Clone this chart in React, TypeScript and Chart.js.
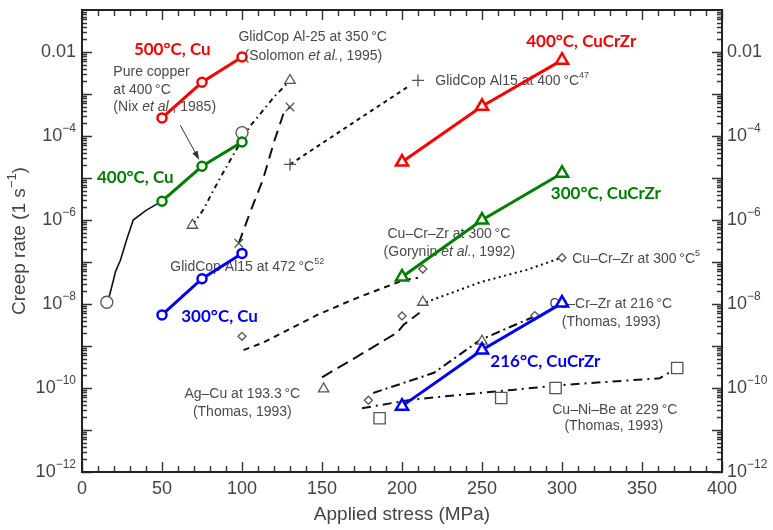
import React, { useEffect, useRef } from 'react';
import { Chart, registerables } from 'chart.js';
Chart.register(...registerables);

// ---------------- axis ticks ----------------
const xTickValues = [0, 50, 100, 150, 200, 250, 300, 350, 400];
const yTickExponents = [-12, -10, -8, -6, -4, -2];

// ---------------- this work (coloured) ----------------
const cu500X = [50, 75, 100];
const cu500Y = [2.7e-4, 1.9e-3, 7.6e-3];
const cu400X = [50, 75, 100];
const cu400Y = [2.8e-6, 1.9e-5, 7.2e-5];
const cu300X = [50, 75, 100];
const cu300Y = [5.5e-9, 4.0e-8, 1.6e-7];
const czr400X = [200, 250, 300];
const czr400Y = [2.4e-5, 5.1e-4, 6.4e-3];
const czr300X = [200, 250, 300];
const czr300Y = [4.4e-8, 1.0e-6, 1.3e-5];
const czr216X = [200, 250, 300];
const czr216Y = [3.7e-11, 8.0e-10, 1.05e-8];

// ---------------- literature curves (black) ----------------
const nixX = [16, 18, 21, 24, 28, 32, 40, 50, 75, 100];
const nixY = [1.1e-8, 2.1e-8, 6e-8, 1.1e-7, 3.5e-7, 1e-6, 1.7e-6, 2.8e-6, 1.9e-5, 7.2e-5];
const solomonX = [69, 72, 76, 82, 88, 95, 105, 113, 120, 130];
const solomonY = [7.5e-7, 1.1e-6, 1.8e-6, 5e-6, 1.3e-5, 3.8e-5, 1.7e-4, 4e-4, 8.5e-4, 2.1e-3];
const al15at472X = [98, 105, 113, 120, 126, 130];
const al15at472Y = [2.8e-7, 1.5e-6, 8.9e-6, 7.2e-5, 3.5e-4, 4.9e-4];
const al15at400X = [130, 168, 205];
const al15at400Y = [2.1e-5, 1.9e-4, 1.6e-3];
const goryninX = [101, 113, 147, 172, 188, 201, 210];
const goryninY = [8e-10, 1.2e-9, 5.5e-9, 1.4e-8, 2.4e-8, 3.7e-8, 4.2e-8];
const ccz300X = [215, 249, 278, 298];
const ccz300Y = [1.1e-8, 3.3e-8, 6.5e-8, 1.2e-7];
const agCuX = [150, 174, 197, 201, 211];
const agCuY = [1.8e-10, 6.2e-10, 2.1e-9, 3.2e-9, 6.2e-9];
const ccz216X = [182, 220, 249, 282];
const ccz216Y = [7.6e-11, 2.3e-10, 1.4e-9, 4.9e-9];
const cuNiBeX = [175, 205, 235, 269, 303, 361, 372];
const cuNiBeY = [3.3e-11, 5.2e-11, 6.8e-11, 9e-11, 1.2e-10, 1.7e-10, 3e-10];

// ---------------- literature markers ----------------
const grayCircleX = [15.5, 100];
const grayCircleY = [1.1e-8, 1.2e-4];
const grayTriX = [69, 130, 151, 213, 250];
const grayTriY = [7.5e-7, 2.1e-3, 9.5e-11, 1.1e-8, 1.3e-9];
const grayCrossX = [98, 130];
const grayCrossY = [2.8e-7, 4.9e-4];
const grayPlusX = [130, 210];
const grayPlusY = [2.1e-5, 2.1e-3];
const grayDiamondX = [100, 213, 300, 200, 179, 283];
const grayDiamondY = [1.7e-9, 6.8e-8, 1.26e-7, 5.2e-9, 5.1e-11, 5.3e-9];
const graySquareX = [186, 262, 296, 372];
const graySquareY = [1.9e-11, 5.8e-11, 1e-10, 3e-10];

// ---------------- annotations ----------------
type Part = { t: string; sup?: boolean; it?: boolean };
type Note = { parts: Part[]; x: number; y: number; align: 'left' | 'center'; kind: 'bold' | 'gray'; color?: string };

const RED = '#ff0000';
const GREEN = '#008000';
const BLUE = '#0000ff';
const GRAY_TEXT = '#4a4a4a';
const T = '\u2009';

const notes: Note[] = [
  { parts: [{ t: '500°C, Cu' }], x: 56.4, y: 1.12e-2, align: 'center', kind: 'bold', color: RED },
  { parts: [{ t: '400°C, Cu' }], x: 33.3, y: 1.05e-5, align: 'center', kind: 'bold', color: GREEN },
  { parts: [{ t: '300°C, Cu' }], x: 86, y: 4.9e-9, align: 'center', kind: 'bold', color: BLUE },
  { parts: [{ t: '400°C, CuCrZr' }], x: 312, y: 1.74e-2, align: 'center', kind: 'bold', color: RED },
  { parts: [{ t: '300°C, CuCrZr' }], x: 327.4, y: 4.2e-6, align: 'center', kind: 'bold', color: GREEN },
  { parts: [{ t: '216°C, CuCrZr' }], x: 289.6, y: 4.2e-10, align: 'center', kind: 'bold', color: BLUE },

  { parts: [{ t: 'GlidCop Al-25 at 350' + T + '°C' }], x: 144.2, y: 2.29e-2, align: 'center', kind: 'gray' },
  { parts: [{ t: '(Solomon ' }, { t: 'et al.', it: true }, { t: ', 1995)' }], x: 144.6, y: 7.9e-3, align: 'center', kind: 'gray' },
  { parts: [{ t: 'Pure copper' }], x: 19.6, y: 3.3e-3, align: 'left', kind: 'gray' },
  { parts: [{ t: 'at 400' + T + '°C' }], x: 19.6, y: 1.26e-3, align: 'left', kind: 'gray' },
  { parts: [{ t: '(Nix ' }, { t: 'et al.', it: true }, { t: ', 1985)' }], x: 19.6, y: 4.9e-4, align: 'left', kind: 'gray' },
  { parts: [{ t: 'GlidCop Al15 at 400' + T + '°C' }, { t: '47', sup: true }], x: 220.8, y: 2.04e-3, align: 'left', kind: 'gray' },
  { parts: [{ t: 'Cu–Cr–Zr at 300' + T + '°C' }], x: 229.3, y: 4.7e-7, align: 'center', kind: 'gray' },
  { parts: [{ t: '(Gorynin ' }, { t: 'et al.', it: true }, { t: ', 1992)' }], x: 229.6, y: 1.74e-7, align: 'center', kind: 'gray' },
  { parts: [{ t: 'GlidCop Al15 at 472' + T + '°C' }, { t: '52', sup: true }], x: 55.2, y: 7.6e-8, align: 'left', kind: 'gray' },
  { parts: [{ t: 'Cu–Cr–Zr at 300' + T + '°C' }, { t: '5', sup: true }], x: 306.4, y: 1.17e-7, align: 'left', kind: 'gray' },
  { parts: [{ t: 'Cu–Cr–Zr at 216' + T + '°C' }], x: 330.5, y: 1.0e-8, align: 'center', kind: 'gray' },
  { parts: [{ t: '(Thomas, 1993)' }], x: 330.8, y: 3.7e-9, align: 'center', kind: 'gray' },
  { parts: [{ t: 'Ag–Cu at 193.3' + T + '°C' }], x: 100.2, y: 7.2e-11, align: 'center', kind: 'gray' },
  { parts: [{ t: '(Thomas, 1993)' }], x: 100.2, y: 2.7e-11, align: 'center', kind: 'gray' },
  { parts: [{ t: 'Cu–Ni–Be at 229' + T + '°C' }], x: 333, y: 3.0e-11, align: 'center', kind: 'gray' },
  { parts: [{ t: '(Thomas, 1993)' }], x: 332.4, y: 1.26e-11, align: 'center', kind: 'gray' },
];

// arrow from "Pure copper" note to the Nix curve
const arrowFrom = { x: 61.4, y: 1.8e-4 };
const arrowTo = { x: 73.3, y: 2.7e-5 };

const SANS = '"Liberation Sans", Arial, Helvetica, sans-serif';
const BOLD = 'Lato, "Open Sans", sans-serif';

function drawRich(ctx: CanvasRenderingContext2D, parts: Part[], x: number, y: number, size: number, family: string, weight: string, color: string, align: string) {
  const fontFor = (p: Part) => `${p.it ? 'italic ' : ''}${weight} ${p.sup ? Math.round(size * 0.66) : size}px ${family}`;
  let total = 0;
  const ws = parts.map((p) => {
    ctx.font = fontFor(p);
    const w = ctx.measureText(p.t).width;
    total += w;
    return w;
  });
  let cx = align === 'center' ? x - total / 2 : align === 'right' ? x - total : x;
  ctx.textBaseline = 'middle';
  ctx.textAlign = 'left';
  ctx.fillStyle = color;
  parts.forEach((p, i) => {
    ctx.font = fontFor(p);
    ctx.fillText(p.t, cx, p.sup ? y - size * 0.38 : y);
    cx += ws[i];
  });
}

const decorPlugin = {
  id: 'decor',
  beforeDatasetsDraw(chart: any) {
    const { ctx, chartArea: a, scales } = chart;
    const xs = scales.x;
    const ys = scales.y;
    ctx.save();
    // ticks
    ctx.strokeStyle = '#333';
    ctx.lineWidth = 1.4;
    ctx.beginPath();
    for (let v = 0; v <= 400; v += 10) {
      const px = Math.round(xs.getPixelForValue(v)) + 0.5;
      const len = v % 50 === 0 ? 10 : 6;
      ctx.moveTo(px, a.bottom);
      ctx.lineTo(px, a.bottom - len);
      ctx.moveTo(px, a.top);
      ctx.lineTo(px, a.top + len);
    }
    for (let e = -12; e <= -2; e++) {
      for (let m = 1; m <= 9; m++) {
        const v = m * Math.pow(10, e);
        if (v > 0.1 + 1e-12) continue;
        const py = Math.round(ys.getPixelForValue(v)) + 0.5;
        const len = m === 1 ? 10 : 5;
        ctx.moveTo(a.left, py);
        ctx.lineTo(a.left + len, py);
        ctx.moveTo(a.right, py);
        ctx.lineTo(a.right - len, py);
      }
    }
    ctx.stroke();
    // frame
    ctx.lineWidth = 2;
    ctx.strokeStyle = '#222';
    ctx.strokeRect(a.left, a.top, a.right - a.left, a.bottom - a.top);

    // tick labels
    const axisColor = '#444';
    xTickValues.forEach((v) => {
      drawRich(ctx, [{ t: String(v) }], xs.getPixelForValue(v), a.bottom + 17, 18, SANS, 'normal', axisColor, 'center');
    });
    yTickExponents.forEach((e) => {
      const py = ys.getPixelForValue(Math.pow(10, e));
      const parts: Part[] = e === -2 ? [{ t: '0.01' }] : [{ t: '10' }, { t: '−' + Math.abs(e), sup: true }];
      drawRich(ctx, parts, a.left - 6, py, 18, SANS, 'normal', axisColor, 'right');
      drawRich(ctx, parts, a.right + 5, py, 18, SANS, 'normal', axisColor, 'left');
    });
    // axis titles
    drawRich(ctx, [{ t: 'Applied stress (MPa)' }], (a.left + a.right) / 2, a.bottom + 43, 19, SANS, 'normal', axisColor, 'center');
    ctx.save();
    ctx.translate(20, (a.top + a.bottom) / 2 + 0);
    ctx.rotate(-Math.PI / 2);
    drawRich(ctx, [{ t: 'Creep rate (1 s' }, { t: '−1', sup: true }, { t: ')' }], 0, 0, 19, SANS, 'normal', axisColor, 'center');
    ctx.restore();

    // notes
    notes.forEach((n) => {
      const px = xs.getPixelForValue(n.x);
      const py = ys.getPixelForValue(n.y);
      if (n.kind === 'bold') drawRich(ctx, n.parts, px, py, 17, BOLD, 'bold', n.color || '#000', n.align);
      else drawRich(ctx, n.parts, px, py, 14, SANS, 'normal', GRAY_TEXT, n.align);
    });

    // arrow
    const x1 = xs.getPixelForValue(arrowFrom.x), y1 = ys.getPixelForValue(arrowFrom.y);
    const x2 = xs.getPixelForValue(arrowTo.x), y2 = ys.getPixelForValue(arrowTo.y);
    const ang = Math.atan2(y2 - y1, x2 - x1);
    ctx.strokeStyle = '#333';
    ctx.fillStyle = '#333';
    ctx.lineWidth = 1;
    ctx.beginPath();
    ctx.moveTo(x1, y1);
    ctx.lineTo(x2 - Math.cos(ang) * 6, y2 - Math.sin(ang) * 6);
    ctx.stroke();
    ctx.beginPath();
    ctx.moveTo(x2, y2);
    ctx.lineTo(x2 - Math.cos(ang) * 9 - Math.sin(ang) * 3, y2 - Math.sin(ang) * 9 + Math.cos(ang) * 3);
    ctx.lineTo(x2 - Math.cos(ang) * 9 + Math.sin(ang) * 3, y2 - Math.sin(ang) * 9 - Math.cos(ang) * 3);
    ctx.closePath();
    ctx.fill();
    ctx.restore();
  },
};

const pts = (xs: number[], ys: number[]) => xs.map((x, i) => ({ x, y: ys[i] }));

function colored(xs: number[], ys: number[], color: string, style: string) {
  return {
    data: pts(xs, ys),
    showLine: true,
    borderColor: color,
    borderWidth: 3,
    pointStyle: style,
    pointRadius: style === 'triangle' ? 7 : 4.5,
    pointBorderWidth: 2.5,
    pointBorderColor: color,
    pointBackgroundColor: '#ffffff',
    tension: 0,
  };
}

function blackLine(xs: number[], ys: number[], dash: number[], width = 2) {
  return {
    data: pts(xs, ys),
    showLine: true,
    borderColor: '#111',
    borderWidth: width,
    borderDash: dash,
    pointRadius: 0,
    tension: 0,
  };
}

function markers(xs: number[], ys: number[], style: string, radius: number) {
  return {
    data: pts(xs, ys),
    showLine: false,
    pointStyle: style,
    pointRadius: radius,
    pointBorderWidth: 1.3,
    pointBorderColor: '#555',
    pointBackgroundColor: '#ffffff',
  };
}

export default function App() {
  const ref = useRef<HTMLCanvasElement | null>(null);
  useEffect(() => {
    const canvas = ref.current;
    if (!canvas) return;
    const chart = new Chart(canvas, {
      type: 'scatter',
      data: {
        datasets: [
          colored(cu500X, cu500Y, RED, 'circle'),
          colored(cu400X, cu400Y, GREEN, 'circle'),
          colored(cu300X, cu300Y, BLUE, 'circle'),
          colored(czr400X, czr400Y, RED, 'triangle'),
          colored(czr300X, czr300Y, GREEN, 'triangle'),
          colored(czr216X, czr216Y, BLUE, 'triangle'),
          markers(grayCircleX, grayCircleY, 'circle', 6),
          markers(grayTriX, grayTriY, 'triangle', 6),
          markers(grayCrossX, grayCrossY, 'crossRot', 6),
          markers(grayPlusX, grayPlusY, 'cross', 6),
          markers(grayDiamondX, grayDiamondY, 'rectRot', 4),
          markers(graySquareX, graySquareY, 'rect', 8),
          blackLine(nixX, nixY, [], 1.6),
          blackLine(solomonX, solomonY, [5, 4, 1.5, 4]),
          blackLine(al15at472X, al15at472Y, [11, 7]),
          blackLine(al15at400X, al15at400Y, [4, 4]),
          blackLine(goryninX, goryninY, [6, 5]),
          blackLine(ccz300X, ccz300Y, [2, 3.5]),
          blackLine(agCuX, agCuY, [12, 6]),
          blackLine(ccz216X, ccz216Y, [9, 4, 2, 4]),
          blackLine(cuNiBeX, cuNiBeY, [9, 5, 2, 5]),
        ] as any,
      },
      options: {
        responsive: false,
        animation: false,
        devicePixelRatio: 1,
        layout: { padding: { left: 82, right: 51, top: 10, bottom: 58 } },
        plugins: { legend: { display: false }, tooltip: { enabled: false } },
        scales: {
          x: { type: 'linear', min: 0, max: 400, display: false },
          y: { type: 'logarithmic', min: 1e-12, max: 1e-1, display: false },
        },
      } as any,
      plugins: [decorPlugin],
    });
    return () => chart.destroy();
  }, []);
  return (
    <div style={{ position: 'fixed', left: 0, top: 0, width: 773, height: 530, background: '#fff' }}>
      <canvas ref={ref} width={773} height={530} style={{ display: 'block', width: 773, height: 530 }} />
    </div>
  );
}
